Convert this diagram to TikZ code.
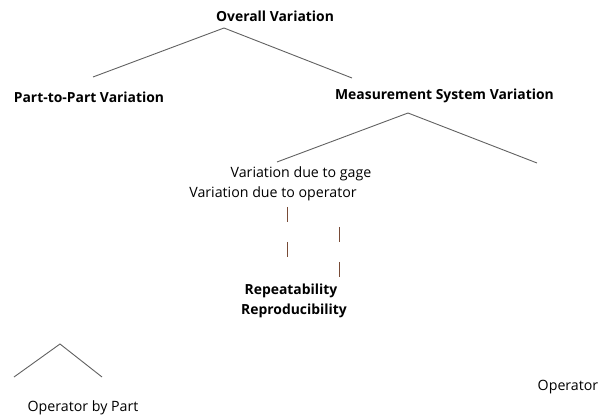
\documentclass[tikz,border=0pt]{standalone}
\usepackage{fontspec}
\setmainfont{Open Sans}
\begin{document}
\begin{tikzpicture}[x=1pt,y=-1pt,
  lbl/.style={inner sep=0pt,anchor=center,font=\fontsize{14.2}{16}\selectfont},
  blbl/.style={lbl,font=\fontsize{13.9}{16}\selectfont\bfseries},
  branch/.style={draw=black!62,line width=0.9pt},
  dashline/.style={draw={rgb,255:red,120;green,75;blue,55},line width=1pt,dash pattern=on 15pt off 20pt}]
\useasboundingbox (0,0) rectangle (604,419);
% texts
\node[blbl] (ov) at (275,16) {Overall Variation};
\node[blbl] (pp) at (89,97) {Part-to-Part Variation};
\node[blbl] (ms) at (444.5,96) {Measurement System Variation};
\node[lbl] (gage) at (301,174) {Variation due to gage};
\node[lbl] (oper) at (273,194) {Variation due to operator};
\node[blbl] (rep) at (291,291) {Repeatability};
\node[blbl] (repro) at (294,311) {Reproducibility};
\node[lbl] (obp) at (83,408) {Operator by Part};
\node[lbl] (op) at (568,387) {Operator};
% branch coordinates
\coordinate (a1) at (224,28);
\coordinate (a1l) at (93,77);
\coordinate (a1r) at (352,78);
\coordinate (a2) at (408,113);
\coordinate (a2l) at (277,162);
\coordinate (a2r) at (537,163);
\coordinate (a3) at (60,344);
\coordinate (a3l) at (14,377);
\coordinate (a3r) at (102,377);
\draw[branch] (a1l) -- (a1) -- (a1r);
\draw[branch] (a2l) -- (a2) -- (a2r);
\draw[branch] (a3l) -- (a3) -- (a3r);
% dashed connectors
\coordinate (d1t) at (287,207);
\coordinate (d1b) at (287,257);
\coordinate (d2t) at (339,227);
\coordinate (d2b) at (339,277);
\draw[dashline] (d1t) -- (d1b);
\draw[dashline] (d2t) -- (d2b);
\end{tikzpicture}
\end{document}
